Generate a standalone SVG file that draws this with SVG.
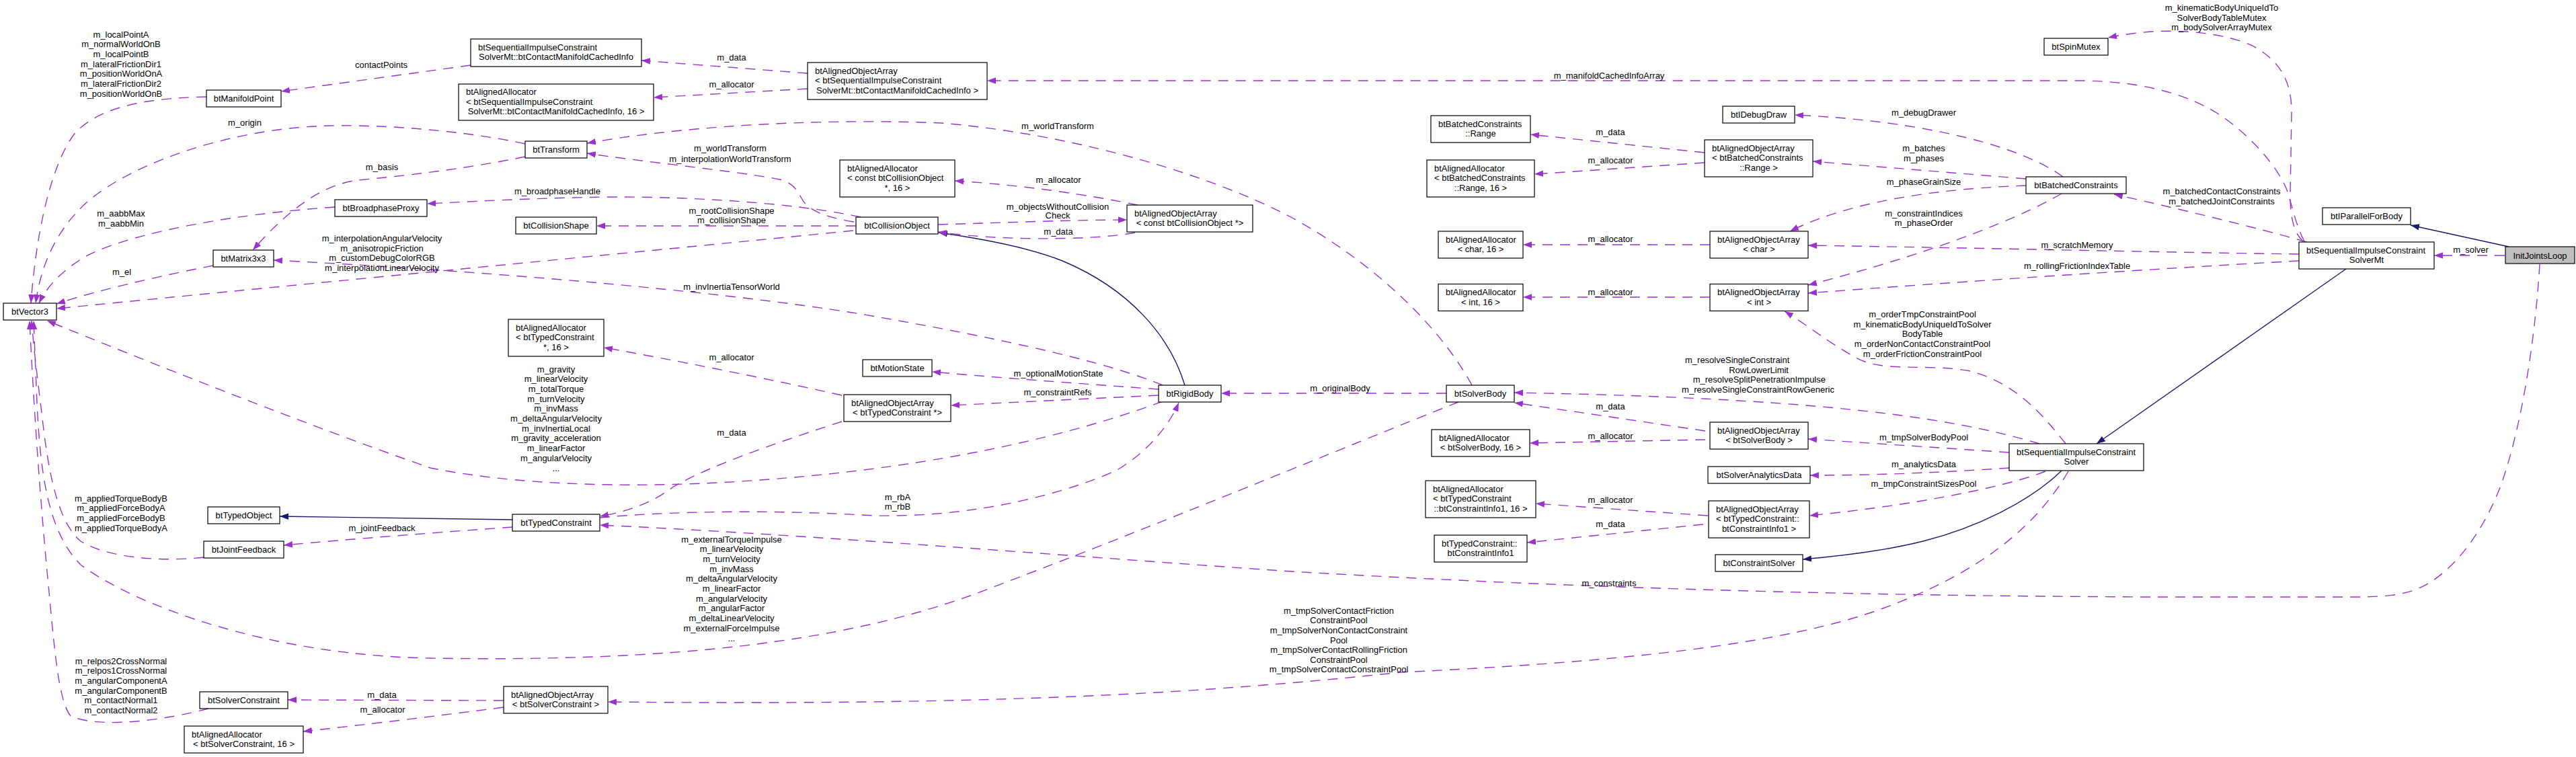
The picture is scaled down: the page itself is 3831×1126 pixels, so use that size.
<svg xmlns="http://www.w3.org/2000/svg" width="3831" height="1126" viewBox="0 0 3831 1126">
<style>
text{font-family:"Liberation Sans",Arial,Helvetica,sans-serif;font-size:13px;fill:#000}
.c{text-anchor:middle}.s{text-anchor:start}.r{text-anchor:end}
.nd rect{fill:#fff;stroke:#000;stroke-width:1.2}
.nd rect.g{fill:#bfbfbf}
.e{fill:none;stroke:#9a32cd;stroke-width:1.4;stroke-dasharray:15,11;marker-end:url(#ap)}
.h{fill:none;stroke:#191970;stroke-width:1.4;marker-end:url(#ah)}
</style>
<defs>
<marker id="ap" markerWidth="14" markerHeight="10" refX="13" refY="4.75" orient="auto" markerUnits="userSpaceOnUse"><path d="M0,0 L13,4.75 L0,9.5 z" fill="#9a32cd"/></marker>
<marker id="ah" markerWidth="14" markerHeight="10" refX="13" refY="4.75" orient="auto" markerUnits="userSpaceOnUse"><path d="M0,0 L13,4.75 L0,9.5 z" fill="#191970"/></marker>
</defs>
<rect width="3831" height="1126" fill="#fff"/>
<g id="edges">
<path class="e" d="M3725,380 L3620,380"/>
<path class="h" d="M3731,367 L3585,335"/>
<path class="e" d="M3777,393 C3772,480 3755,620 3720,720 C3690,800 3640,860 3590,878 C3565,886 3540,888 3500,888 L3200,888 C2700,886 2300,872 1920,850 C1600,828 1200,795 892,781"/>
<path class="e" d="M3427,359 C3412,330 3408,300 3400,280 C3385,245 3345,200 3300,170 C3260,145 3200,122 3100,120 L1468,120"/>
<path class="e" d="M3425,359 C3410,345 3406,320 3406,290 L3408,170 C3409,120 3390,90 3350,68 C3310,50 3250,44 3200,47 C3175,49 3155,52 3135,56"/>
<path class="e" d="M3430,360 C3380,345 3260,315 3144,289"/>
<path class="e" d="M3419,378 C3200,375 2900,368 2689,365"/>
<path class="e" d="M3419,388 C3200,400 2900,420 2689,436"/>
<path class="h" d="M3489,400 L3118,660"/>
<path class="e" d="M3068,263 C3010,220 2870,180 2669,171"/>
<path class="e" d="M3013,266 L2696,240"/>
<path class="e" d="M3013,276 C2900,280 2760,295 2662,344"/>
<path class="e" d="M3066,288 C3020,315 2900,370 2689,424"/>
<path class="e" d="M2535,227 L2276,200"/>
<path class="e" d="M2535,242 L2282,259"/>
<path class="e" d="M2543,364 L2265,364"/>
<path class="e" d="M2543,442 L2265,442"/>
<path class="e" d="M3072,660 C3040,620 3000,570 2930,552 C2870,540 2800,555 2760,532 C2720,510 2690,485 2654,463"/>
<path class="e" d="M3033,660 C2900,620 2700,592 2252,584"/>
<path class="e" d="M2988,673 L2689,653"/>
<path class="e" d="M2988,696 C2900,702 2800,707 2692,707"/>
<path class="e" d="M3042,701 C3000,718 2880,748 2691,767"/>
<path class="h" d="M3066,700 C3020,745 2940,785 2860,805 C2800,820 2740,827 2681,832"/>
<path class="e" d="M3076,701 C3030,780 2950,850 2800,905 C2650,960 2400,985 2083,1000 C1800,1030 1500,1050 904,1044"/>
<path class="e" d="M2536,641 L2252,599"/>
<path class="e" d="M2536,654 L2275,659"/>
<path class="e" d="M2540,767 L2284,749"/>
<path class="e" d="M2533,780 L2271,807"/>
<path class="e" d="M2151,585 L1816,585"/>
<path class="e" d="M2189,573 C2150,500 2060,400 1920,323 C1800,260 1600,200 1400,183 C1200,175 1000,190 873,213"/>
<path class="e" d="M1270,330 C1220,322 1200,310 1192,295 C1184,280 1178,272 1160,267 C1100,255 950,240 873,228"/>
<path class="e" d="M1280,323 C1200,305 1050,292 900,293 C780,295 700,300 635,303"/>
<path class="e" d="M1273,336 L887,336"/>
<path class="e" d="M1269,343 C1000,370 600,408 84,459"/>
<path class="e" d="M1729,573 C1650,540 1500,505 1280,467 C1050,430 700,402 407,387"/>
<path class="e" d="M1729,597 C1600,645 1400,695 1130,714 C1000,724 800,728 640,696 C450,630 200,530 70,477"/>
<path class="e" d="M1723,579 C1600,570 1500,563 1386,553"/>
<path class="e" d="M1723,588 L1414,603"/>
<path class="h" d="M1762,573 C1740,500 1680,430 1580,388 C1530,368 1460,355 1396,346"/>
<path class="e" d="M1692,305 C1620,290 1520,275 1420,269"/>
<path class="e" d="M1395,334 C1500,331 1600,327 1676,327"/>
<path class="e" d="M1688,346 C1640,356 1500,360 1395,345"/>
<path class="e" d="M1201,109 L954,90"/>
<path class="e" d="M1201,132 L972,145"/>
<path class="e" d="M700,97 L418,136"/>
<path class="e" d="M781,214 C720,200 600,185 490,187 C350,190 200,240 130,300 C80,345 60,400 53,451"/>
<path class="e" d="M781,233 C700,250 600,262 531,268 C480,275 430,310 376,372"/>
<path class="e" d="M498,308 C350,318 200,345 130,380 C95,400 70,425 58,451"/>
<path class="e" d="M317,395 C250,408 150,430 84,452"/>
<path class="e" d="M307,144 C200,146 140,165 110,200 C80,240 55,330 46,451"/>
<path class="h" d="M762,773 L416,768"/>
<path class="e" d="M762,784 C650,792 520,802 422,811"/>
<path class="e" d="M303,829 C240,836 160,830 120,805 C90,780 75,720 65,640 C58,580 50,520 47,477"/>
<path class="e" d="M2169,598 C2000,665 1700,790 1443,886 C1250,955 1000,985 640,979 C400,975 200,900 120,840 C70,790 60,700 55,600 L50,477"/>
<path class="e" d="M310,1054 C250,1070 150,1085 105,1065 C85,1040 80,950 70,850 C58,720 50,600 44,477"/>
<path class="e" d="M749,1042 L428,1041"/>
<path class="e" d="M749,1052 C650,1065 550,1077 451,1088"/>
<path class="e" d="M1252,588 C1150,565 1000,535 898,517"/>
<path class="e" d="M1252,627 C1150,660 1050,695 1000,725 C980,740 950,758 892,768"/>
<path class="e" d="M892,770 C1000,760 1150,758 1300,767 C1450,770 1580,735 1660,700 C1710,670 1740,630 1753,599"/>
</g>
<g id="edge-labels">
<text class="c" x="3674.5" y="376">m_solver</text>
<text class="c" x="2393" y="871.5">m_constraints</text>
<text class="c" x="2393" y="116.5">m_manifoldCachedInfoArray</text>
<text class="c" x="3304" y="16">m_kinematicBodyUniqueIdTo</text>
<text class="c" x="3304" y="30.5">SolverBodyTableMutex</text>
<text class="c" x="3304" y="45">m_bodySolverArrayMutex</text>
<text class="c" x="3304" y="288.5">m_batchedContactConstraints</text>
<text class="c" x="3304" y="303.5">m_batchedJointConstraints</text>
<text class="c" x="3089" y="368.5">m_scratchMemory</text>
<text class="c" x="3089" y="399.5">m_rollingFrictionIndexTable</text>
<text class="c" x="2861" y="171.5">m_debugDrawer</text>
<text class="c" x="2861" y="225">m_batches</text>
<text class="c" x="2861" y="240">m_phases</text>
<text class="c" x="2861" y="274.5">m_phaseGrainSize</text>
<text class="c" x="2861" y="321.5">m_constraintIndices</text>
<text class="c" x="2861" y="336">m_phaseOrder</text>
<text class="c" x="2395" y="200.5">m_data</text>
<text class="c" x="2395" y="242.5">m_allocator</text>
<text class="c" x="2395" y="359.5">m_allocator</text>
<text class="c" x="2395" y="438.5">m_allocator</text>
<text class="c" x="2859" y="472">m_orderTmpConstraintPool</text>
<text class="c" x="2859" y="486.5">m_kinematicBodyUniqueIdToSolver</text>
<text class="c" x="2859" y="501">BodyTable</text>
<text class="c" x="2859" y="515.5">m_orderNonContactConstraintPool</text>
<text class="c" x="2859" y="530.5">m_orderFrictionConstraintPool</text>
<text class="s" x="2506" y="539.5">m_resolveSingleConstraint</text>
<text class="r" x="2660" y="554.5">RowLowerLimit</text>
<text class="r" x="2715" y="569">m_resolveSplitPenetrationImpulse</text>
<text class="r" x="2728" y="583.5">m_resolveSingleConstraintRowGeneric</text>
<text class="c" x="2861" y="654.5">m_tmpSolverBodyPool</text>
<text class="c" x="2861" y="695">m_analyticsData</text>
<text class="c" x="2861" y="723.5">m_tmpConstraintSizesPool</text>
<text class="c" x="1991" y="912.5">m_tmpSolverContactFriction</text>
<text class="c" x="1991" y="927">ConstraintPool</text>
<text class="c" x="1991" y="941.5">m_tmpSolverNonContactConstraint</text>
<text class="c" x="1991" y="956.5">Pool</text>
<text class="c" x="1991" y="971">m_tmpSolverContactRollingFriction</text>
<text class="c" x="1991" y="985.5">ConstraintPool</text>
<text class="c" x="1991" y="1000">m_tmpSolverContactConstraintPool</text>
<text class="c" x="2395" y="608.5">m_data</text>
<text class="c" x="2395" y="652.5">m_allocator</text>
<text class="c" x="2395" y="747.5">m_allocator</text>
<text class="c" x="2395" y="784">m_data</text>
<text class="c" x="1993" y="581.5">m_originalBody</text>
<text class="c" x="1573" y="191.5">m_worldTransform</text>
<text class="c" x="1574" y="271.5">m_allocator</text>
<text class="c" x="1573" y="311.5">m_objectsWithoutCollision</text>
<text class="c" x="1573" y="324.5">Check</text>
<text class="c" x="1574" y="348.5">m_data</text>
<text class="c" x="1574" y="559.5">m_optionalMotionState</text>
<text class="c" x="1573" y="587.5">m_constraintRefs</text>
<text class="c" x="1335" y="743.5">m_rbA</text>
<text class="c" x="1335" y="757.5">m_rbB</text>
<text class="c" x="1088" y="89.5">m_data</text>
<text class="c" x="1088" y="129.5">m_allocator</text>
<text class="c" x="1086" y="224.5">m_worldTransform</text>
<text class="c" x="1086" y="240.5">m_interpolationWorldTransform</text>
<text class="c" x="829" y="288.5">m_broadphaseHandle</text>
<text class="c" x="1088" y="317.5">m_rootCollisionShape</text>
<text class="c" x="1088" y="331.5">m_collisionShape</text>
<text class="c" x="1088" y="430.5">m_invInertiaTensorWorld</text>
<text class="c" x="1088" y="535.5">m_allocator</text>
<text class="c" x="827" y="553.5">m_gravity</text>
<text class="c" x="827" y="568.2">m_linearVelocity</text>
<text class="c" x="827" y="582.9">m_totalTorque</text>
<text class="c" x="827" y="597.6">m_turnVelocity</text>
<text class="c" x="827" y="612.3">m_invMass</text>
<text class="c" x="827" y="627">m_deltaAngularVelocity</text>
<text class="c" x="827" y="641.7">m_invInertiaLocal</text>
<text class="c" x="827" y="656.4">m_gravity_acceleration</text>
<text class="c" x="827" y="671.1">m_linearFactor</text>
<text class="c" x="827" y="685.8">m_angularVelocity</text>
<text class="c" x="827" y="700.5">...</text>
<text class="c" x="1088" y="647.5">m_data</text>
<text class="c" x="1088" y="806.5">m_externalTorqueImpulse</text>
<text class="c" x="1088" y="821.2">m_linearVelocity</text>
<text class="c" x="1088" y="835.9">m_turnVelocity</text>
<text class="c" x="1088" y="850.6">m_invMass</text>
<text class="c" x="1088" y="865.3">m_deltaAngularVelocity</text>
<text class="c" x="1088" y="880">m_linearFactor</text>
<text class="c" x="1088" y="894.7">m_angularVelocity</text>
<text class="c" x="1088" y="909.4">m_angularFactor</text>
<text class="c" x="1088" y="924.1">m_deltaLinearVelocity</text>
<text class="c" x="1088" y="938.8">m_externalForceImpulse</text>
<text class="c" x="1088" y="953.5">...</text>
<text class="c" x="567" y="100.5">contactPoints</text>
<text class="c" x="364" y="186.5">m_origin</text>
<text class="c" x="568" y="252.5">m_basis</text>
<text class="c" x="180" y="321.5">m_aabbMax</text>
<text class="c" x="180" y="336.5">m_aabbMin</text>
<text class="c" x="181" y="408.5">m_el</text>
<text class="c" x="568" y="359">m_interpolationAngularVelocity</text>
<text class="c" x="568" y="373.7">m_anisotropicFriction</text>
<text class="c" x="568" y="388.4">m_customDebugColorRGB</text>
<text class="c" x="568" y="403.1">m_interpolationLinearVelocity</text>
<text class="c" x="180" y="55.5">m_localPointA</text>
<text class="c" x="180" y="70.2">m_normalWorldOnB</text>
<text class="c" x="180" y="84.9">m_localPointB</text>
<text class="c" x="180" y="99.6">m_lateralFrictionDir1</text>
<text class="c" x="180" y="114.3">m_positionWorldOnA</text>
<text class="c" x="180" y="129">m_lateralFrictionDir2</text>
<text class="c" x="180" y="143.7">m_positionWorldOnB</text>
<text class="c" x="568" y="789.5">m_jointFeedback</text>
<text class="c" x="180" y="745.5">m_appliedTorqueBodyB</text>
<text class="c" x="180" y="760.2">m_appliedForceBodyA</text>
<text class="c" x="180" y="774.9">m_appliedForceBodyB</text>
<text class="c" x="180" y="789.6">m_appliedTorqueBodyA</text>
<text class="c" x="180" y="987.5">m_relpos2CrossNormal</text>
<text class="c" x="180" y="1002.2">m_relpos1CrossNormal</text>
<text class="c" x="180" y="1016.9">m_angularComponentA</text>
<text class="c" x="180" y="1031.6">m_angularComponentB</text>
<text class="c" x="180" y="1046.3">m_contactNormal1</text>
<text class="c" x="180" y="1061">m_contactNormal2</text>
<text class="c" x="568" y="1037.5">m_data</text>
<text class="c" x="569" y="1059.5">m_allocator</text>
</g>
<g id="InitJointsLoop" class="nd"><rect class="g" x="3726" y="367" width="103" height="25"/><text class="c" x="3777.5" y="384.5">InitJointsLoop</text></g>
<g id="btIParallelForBody" class="nd"><rect x="3454" y="309" width="131" height="25"/><text class="c" x="3519.5" y="326">btIParallelForBody</text></g>
<g id="btSequentialImpulseConstraintSolverMt" class="nd"><rect x="3419" y="360" width="201" height="40"/><text class="s" x="3430" y="376.5">btSequentialImpulseConstraint</text><text class="c" x="3519.5" y="391">SolverMt</text></g>
<g id="btSpinMutex" class="nd"><rect x="3040" y="57" width="95" height="25"/><text class="c" x="3087.5" y="74">btSpinMutex</text></g>
<g id="btBatchedConstraints" class="nd"><rect x="3013" y="263" width="149" height="25"/><text class="c" x="3087.5" y="280">btBatchedConstraints</text></g>
<g id="btIDebugDraw" class="nd"><rect x="2562" y="158" width="107" height="25"/><text class="c" x="2615.5" y="175">btIDebugDraw</text></g>
<g id="btAlignedObjectArray_Range" class="nd"><rect x="2535" y="208" width="161" height="55"/><text class="s" x="2546" y="224.5">btAlignedObjectArray</text><text class="s" x="2546" y="239">&lt; btBatchedConstraints</text><text class="c" x="2615.5" y="253.5">::Range &gt;</text></g>
<g id="btAlignedObjectArray_char" class="nd"><rect x="2543" y="344" width="146" height="40"/><text class="s" x="2554" y="360.5">btAlignedObjectArray</text><text class="c" x="2616" y="375">&lt; char &gt;</text></g>
<g id="btAlignedObjectArray_int" class="nd"><rect x="2543" y="422.5" width="146" height="40"/><text class="s" x="2554" y="439">btAlignedObjectArray</text><text class="c" x="2616" y="453.5">&lt; int &gt;</text></g>
<g id="btBatchedConstraints_Range" class="nd"><rect x="2128" y="172" width="148" height="40"/><text class="s" x="2139" y="188.5">btBatchedConstraints</text><text class="c" x="2202" y="203">::Range</text></g>
<g id="btAlignedAllocator_Range" class="nd"><rect x="2122" y="238" width="160" height="55"/><text class="s" x="2133" y="254.5">btAlignedAllocator</text><text class="s" x="2133" y="269">&lt; btBatchedConstraints</text><text class="c" x="2202" y="283.5">::Range, 16 &gt;</text></g>
<g id="btAlignedAllocator_char" class="nd"><rect x="2139" y="344" width="126" height="40"/><text class="s" x="2150" y="360.5">btAlignedAllocator</text><text class="c" x="2202" y="375">&lt; char, 16 &gt;</text></g>
<g id="btAlignedAllocator_int" class="nd"><rect x="2139" y="422.5" width="126" height="40"/><text class="s" x="2150" y="439">btAlignedAllocator</text><text class="c" x="2202" y="453.5">&lt; int, 16 &gt;</text></g>
<g id="btSequentialImpulseConstraintSolver" class="nd"><rect x="2988" y="660" width="200" height="40"/><text class="s" x="2999" y="676.5">btSequentialImpulseConstraint</text><text class="c" x="3088" y="691">Solver</text></g>
<g id="btAlignedObjectArray_btSolverBody" class="nd"><rect x="2543" y="628" width="146" height="40"/><text class="s" x="2554" y="644.5">btAlignedObjectArray</text><text class="c" x="2616" y="659">&lt; btSolverBody &gt;</text></g>
<g id="btSolverAnalyticsData" class="nd"><rect x="2540" y="694" width="152" height="25"/><text class="c" x="2616" y="711">btSolverAnalyticsData</text></g>
<g id="btAlignedObjectArray_btConstraintInfo1" class="nd"><rect x="2541" y="745" width="150" height="55"/><text class="s" x="2552" y="761.5">btAlignedObjectArray</text><text class="s" x="2552" y="776">&lt; btTypedConstraint::</text><text class="c" x="2616" y="790.5">btConstraintInfo1 &gt;</text></g>
<g id="btConstraintSolver" class="nd"><rect x="2551" y="825" width="130" height="25"/><text class="c" x="2616" y="842">btConstraintSolver</text></g>
<g id="btSolverBody" class="nd"><rect x="2151" y="573" width="101" height="25"/><text class="c" x="2201.5" y="590">btSolverBody</text></g>
<g id="btAlignedAllocator_btSolverBody" class="nd"><rect x="2129" y="639" width="146" height="40"/><text class="s" x="2140" y="655.5">btAlignedAllocator</text><text class="c" x="2202" y="670">&lt; btSolverBody, 16 &gt;</text></g>
<g id="btAlignedAllocator_btConstraintInfo1" class="nd"><rect x="2120" y="715" width="164" height="55"/><text class="s" x="2131" y="731.5">btAlignedAllocator</text><text class="s" x="2131" y="746">&lt; btTypedConstraint</text><text class="c" x="2202" y="760.5">::btConstraintInfo1, 16 &gt;</text></g>
<g id="btTypedConstraint_btConstraintInfo1" class="nd"><rect x="2133" y="796" width="138" height="40"/><text class="s" x="2144" y="812.5">btTypedConstraint::</text><text class="c" x="2202" y="827">btConstraintInfo1</text></g>
<g id="btAlignedObjectArray_CachedInfo" class="nd"><rect x="1201" y="93" width="267" height="55"/><text class="s" x="1212" y="109.5">btAlignedObjectArray</text><text class="s" x="1212" y="124">&lt; btSequentialImpulseConstraint</text><text class="c" x="1334.5" y="138.5">SolverMt::btContactManifoldCachedInfo &gt;</text></g>
<g id="btAlignedAllocator_btCollisionObject" class="nd"><rect x="1249" y="238" width="171" height="55"/><text class="s" x="1260" y="254.5">btAlignedAllocator</text><text class="s" x="1260" y="269">&lt; const btCollisionObject</text><text class="c" x="1334.5" y="283.5">*, 16 &gt;</text></g>
<g id="btCollisionObject" class="nd"><rect x="1273" y="323" width="122" height="25"/><text class="c" x="1334" y="340">btCollisionObject</text></g>
<g id="btAlignedObjectArray_btCollisionObject" class="nd"><rect x="1676" y="305" width="187" height="40"/><text class="s" x="1687" y="321.5">btAlignedObjectArray</text><text class="c" x="1769.5" y="336">&lt; const btCollisionObject *&gt;</text></g>
<g id="btMotionState" class="nd"><rect x="1283" y="535" width="103" height="25"/><text class="c" x="1334.5" y="552">btMotionState</text></g>
<g id="btRigidBody" class="nd"><rect x="1723" y="573" width="93" height="25"/><text class="c" x="1769.5" y="590">btRigidBody</text></g>
<g id="btAlignedObjectArray_btTypedConstraint" class="nd"><rect x="1255" y="587" width="159" height="40"/><text class="s" x="1266" y="603.5">btAlignedObjectArray</text><text class="c" x="1334.5" y="618">&lt; btTypedConstraint *&gt;</text></g>
<g id="btContactManifoldCachedInfo" class="nd"><rect x="700" y="58" width="254" height="41"/><text class="s" x="711" y="74.5">btSequentialImpulseConstraint</text><text class="c" x="827" y="89">SolverMt::btContactManifoldCachedInfo</text></g>
<g id="btAlignedAllocator_CachedInfo" class="nd"><rect x="682" y="125" width="290" height="54"/><text class="s" x="693" y="141">btAlignedAllocator</text><text class="s" x="693" y="155.5">&lt; btSequentialImpulseConstraint</text><text class="c" x="827" y="170">SolverMt::btContactManifoldCachedInfo, 16 &gt;</text></g>
<g id="btTransform" class="nd"><rect x="781" y="210" width="92" height="25"/><text class="c" x="827" y="227">btTransform</text></g>
<g id="btCollisionShape" class="nd"><rect x="767" y="323" width="120" height="25"/><text class="c" x="827" y="340">btCollisionShape</text></g>
<g id="btAlignedAllocator_btTypedConstraint" class="nd"><rect x="756" y="475" width="142" height="55"/><text class="s" x="767" y="491.5">btAlignedAllocator</text><text class="s" x="767" y="506">&lt; btTypedConstraint</text><text class="c" x="827" y="520.5">*, 16 &gt;</text></g>
<g id="btTypedConstraint" class="nd"><rect x="762" y="765" width="130" height="25"/><text class="c" x="827" y="782">btTypedConstraint</text></g>
<g id="btAlignedObjectArray_btSolverConstraint" class="nd"><rect x="749" y="1021" width="155" height="40"/><text class="s" x="760" y="1037.5">btAlignedObjectArray</text><text class="c" x="826.5" y="1052">&lt; btSolverConstraint &gt;</text></g>
<g id="btManifoldPoint" class="nd"><rect x="307" y="134" width="111" height="25"/><text class="c" x="362.5" y="151">btManifoldPoint</text></g>
<g id="btBroadphaseProxy" class="nd"><rect x="498" y="297" width="137" height="25"/><text class="c" x="566.5" y="314">btBroadphaseProxy</text></g>
<g id="btMatrix3x3" class="nd"><rect x="317" y="372" width="90" height="25"/><text class="c" x="362" y="389">btMatrix3x3</text></g>
<g id="btVector3" class="nd"><rect x="5" y="451" width="79" height="25"/><text class="c" x="44.5" y="468">btVector3</text></g>
<g id="btTypedObject" class="nd"><rect x="309" y="754" width="107" height="25"/><text class="c" x="362.5" y="771">btTypedObject</text></g>
<g id="btJointFeedback" class="nd"><rect x="303" y="805" width="119" height="25"/><text class="c" x="362.5" y="822">btJointFeedback</text></g>
<g id="btSolverConstraint" class="nd"><rect x="297" y="1029" width="131" height="25"/><text class="c" x="362.5" y="1046">btSolverConstraint</text></g>
<g id="btAlignedAllocator_btSolverConstraint" class="nd"><rect x="274" y="1080" width="177" height="40"/><text class="s" x="285" y="1096.5">btAlignedAllocator</text><text class="c" x="362.5" y="1111">&lt; btSolverConstraint, 16 &gt;</text></g>
</svg>
